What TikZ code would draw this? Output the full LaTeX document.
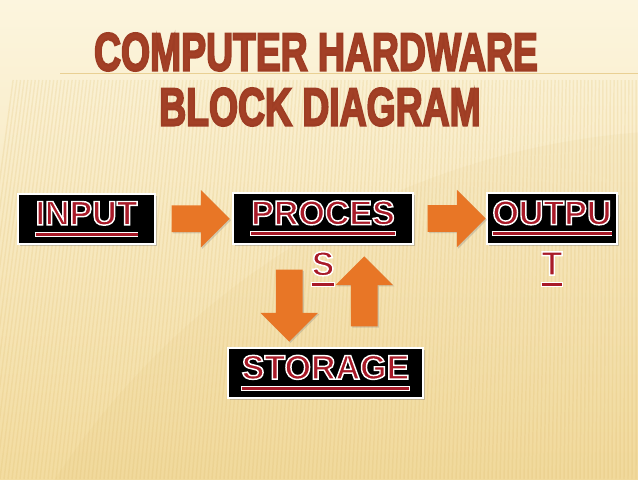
\documentclass[tikz,border=0pt]{standalone}
\usepackage{fontspec}
\setmainfont{Liberation Sans}
\usepackage{graphicx}
\usetikzlibrary{calc,positioning,shapes.arrows,shadows}

\definecolor{bgtop}{RGB}{252,245,222}
\definecolor{bgmid}{RGB}{247,231,182}
\definecolor{bgbot}{RGB}{243,220,160}
\definecolor{stripe}{RGB}{222,186,105}
\definecolor{titlebrown}{RGB}{163,64,38}
\definecolor{labelred}{RGB}{168,26,40}
\definecolor{arroworange}{RGB}{232,118,38}

% letters filled and stroked: #1 stroke colour (r g b), #2 stroke width
\newcommand{\outlined}[3]{\special{pdf:literal direct q #1 RG #2 w 2 Tr}#3\special{pdf:literal direct Q}}
\newcommand{\ulword}[1]{\setbox0\hbox{\outlined{1 1 1}{1.1}{#1}}\dimen0=\wd0 \advance\dimen0 by 1.4pt
  \rlap{\kern-0.7pt\textcolor{white}{\rule[-8.7pt]{\dimen0}{3.7pt}}}\rlap{\rule[-8pt]{\wd0}{2.3pt}}\box0}
\newcommand{\blocktext}[1]{\textcolor{labelred}{\ulword{#1}}}
\newcommand{\titletext}[1]{\scalebox{0.7}[1]{\textcolor{titlebrown}{\outlined{0.62 0.24 0.14}{1.7}{#1}}}}

\tikzset{
  hwbox/.style={draw=white, line width=1.5pt, fill=black, inner sep=0pt,
    minimum height=38pt, font=\fontsize{25.5}{28}\selectfont\bfseries,
    drop shadow={shadow xshift=1.5pt, shadow yshift=-1.5pt, opacity=0.4}},
  spill/.style={inner sep=0pt, font=\fontsize{25.5}{28}\selectfont\bfseries},
  headline/.style={inner sep=0pt, font=\fontsize{40}{44}\selectfont\bfseries},
  blockarrow/.style={single arrow, fill=arroworange, draw=none, inner sep=9.75pt,
    single arrow head extend=11.6pt, minimum width=42.7pt, minimum height=43.5pt,
    drop shadow={shadow xshift=1pt, shadow yshift=-1pt, opacity=0.3}}
}

\begin{document}
\begin{tikzpicture}[x=0.75pt, y=-0.75pt]
  \useasboundingbox (0,0) rectangle (638,479);
  \clip (0,0) rectangle (638,479);

  % Background
  \fill[top color=bgtop, middle color=bgmid, bottom color=bgbot] (0,0) rectangle (638,479);
  \foreach \x in {-40,-36,...,700}
    \draw[stripe, opacity=0.2, line width=1.1pt] (\x,479) -- ({\x+50*(1-\x/638)},80);
  \fill[stripe, opacity=0.08] (700,900) circle[radius=770];
  \draw[stripe, opacity=0.6, line width=0.5pt] (60,73) -- (638,73);

  % Coordinates
  \coordinate (T1) at (316,52);
  \coordinate (T2) at (320,107);
  \coordinate (I) at (86.5,219);
  \coordinate (P) at (323,218.5);
  \coordinate (O) at (552,218.5);
  \coordinate (S) at (325.5,373);

  % Title
  \node[headline] (title1) at (T1) {\titletext{COMPUTER HARDWARE}};
  \node[headline] (title2) at (T2) {\titletext{BLOCK DIAGRAM}};

  % Blocks
  \node[hwbox, minimum width=102.75pt] (input) at (I) {\blocktext{INPUT}};
  \node[hwbox, minimum width=135pt] (process) at (P) {\blocktext{PROCES}};
  \node[hwbox, minimum width=97.5pt] (output) at (O) {\blocktext{OUTPU}};
  \node[hwbox, minimum width=146.25pt, minimum height=37.5pt] (storage) at (S) {\blocktext{STORAGE}};
  \node[spill, below=5pt of process] (process-s) {\blocktext{S}};
  \node[spill, below=5pt of output] (output-t) {\blocktext{T}};

  % Arrows
  \node[blockarrow] (in-pr) at ($(input.east)!0.5!(process.west)$) {};
  \node[blockarrow] (pr-out) at ($(process.east)!0.5!(output.west)$) {};
  \node[blockarrow, shape border rotate=270, minimum height=54pt]
    (pr-st) at ($($(process.south)!0.5!(storage.north)$)+(-35,3)$) {};
  \node[blockarrow, shape border rotate=90, minimum height=52.5pt]
    (st-pr) at ($($(process.south)!0.5!(storage.north)$)+(40,2)$) {};
\end{tikzpicture}
\end{document}
